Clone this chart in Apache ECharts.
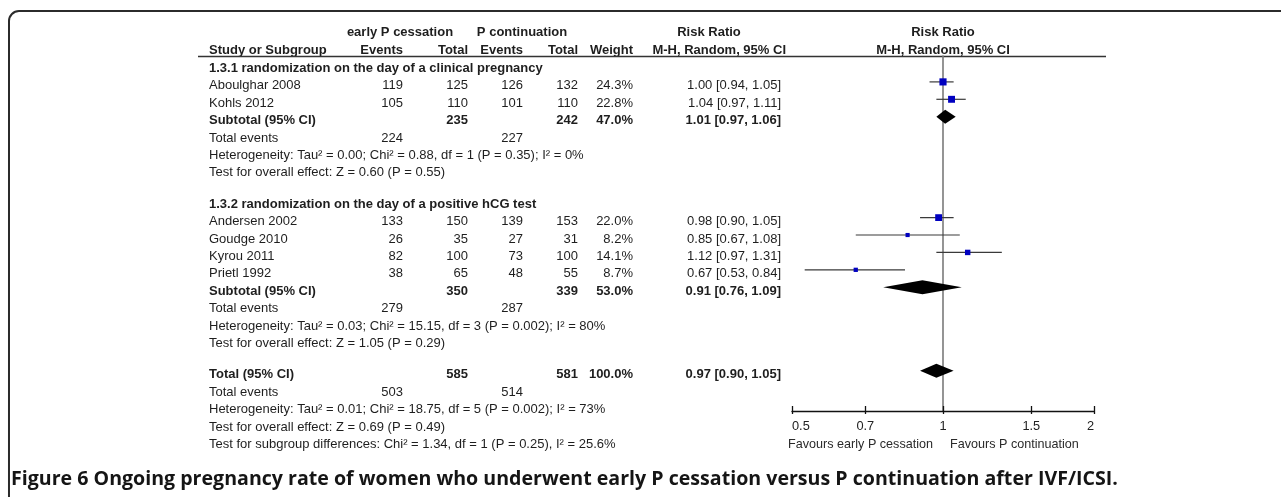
<!DOCTYPE html>
<html><head><meta charset="utf-8">
<script src="https://cdn.jsdelivr.net/npm/echarts@6/dist/echarts.min.js"></script>
<style>html,body{margin:0;padding:0;background:#fff}#c{width:1281px;height:497px}</style>
</head><body><div id="c"></div>
<script>
// ---------------- data ----------------
const groupTitles = ['1.3.1 randomization on the day of a clinical pregnancy', '1.3.2 randomization on the day of a positive hCG test'];
const studyNames = ['Aboulghar 2008', 'Kohls 2012', 'Andersen 2002', 'Goudge 2010', 'Kyrou 2011', 'Prietl 1992'];
const studyGroup = [0, 0, 1, 1, 1, 1];
const eventsEarly = [119, 105, 133, 26, 82, 38];
const totalEarly = [125, 110, 150, 35, 100, 65];
const eventsCont = [126, 101, 139, 27, 73, 48];
const totalCont = [132, 110, 153, 31, 100, 55];
const weights = [24.3, 22.8, 22.0, 8.2, 14.1, 8.7];
const rr = [1.00, 1.04, 0.98, 0.85, 1.12, 0.67];
const ciLow = [0.94, 0.97, 0.90, 0.67, 0.97, 0.53];
const ciHigh = [1.05, 1.11, 1.05, 1.08, 1.31, 0.84];

const subTotalEarly = [235, 350];
const subTotalCont = [242, 339];
const subWeight = [47.0, 53.0];
const subRR = [1.01, 0.91];
const subLow = [0.97, 0.76];
const subHigh = [1.06, 1.09];
const subEventsEarly = [224, 279];
const subEventsCont = [227, 287];
const heterogeneity = ['Heterogeneity: Tau\u00b2 = 0.00; Chi\u00b2 = 0.88, df = 1 (P = 0.35); I\u00b2 = 0%',
                       'Heterogeneity: Tau\u00b2 = 0.03; Chi\u00b2 = 15.15, df = 3 (P = 0.002); I\u00b2 = 80%'];
const overallEffect = ['Test for overall effect: Z = 0.60 (P = 0.55)', 'Test for overall effect: Z = 1.05 (P = 0.29)'];

const overallTotalEarly = 585;
const overallTotalCont = 581;
const overallWeight = 100.0;
const overallRR = 0.97;
const overallLow = 0.90;
const overallHigh = 1.05;
const overallEventsEarly = 503;
const overallEventsCont = 514;
const overallHet = 'Heterogeneity: Tau\u00b2 = 0.01; Chi\u00b2 = 18.75, df = 5 (P = 0.002); I\u00b2 = 73%';
const overallTest = 'Test for overall effect: Z = 0.69 (P = 0.49)';
const subgroupTest = 'Test for subgroup differences: Chi\u00b2 = 1.34, df = 1 (P = 0.25), I\u00b2 = 25.6%';

const xTicks = [0.5, 0.7, 1, 1.5, 2];
const favoursLeft = 'Favours early P cessation';
const favoursRight = 'Favours P continuation';
const caption = 'Figure 6 Ongoing pregnancy rate of women who underwent early P cessation versus P continuation after IVF/ICSI.';

// ---------------- layout ----------------
const FONT = 'Liberation Sans, Arial, sans-serif';
const FS = 13;
const TXT = '#1e1e1e';
const COL = {study: 209, ev1: 403, tot1: 468, ev2: 523, tot2: 578, weight: 633, rr: 781};
const TEXT_DY = 4;
const GAP = 1.8;
const GRID = {left: 792, right: 1094, top: 56, bottom: 411};
const ROW_PX = 17.4;
const firstMarkPx = 64.5;

const fmtRR = (a, b, c) => a.toFixed(2) + ' [' + b.toFixed(2) + ', ' + c.toFixed(2) + ']';
const fmtW = w => w.toFixed(1) + '%';

// build rows
const rows = [];
let slot = 0;
groupTitles.forEach((title, g) => {
  rows.push({slot, cells: [{x: COL.study, t: title, b: true, a: 'left'}]});
  slot += 1;
  studyNames.forEach((name, i) => {
    if (studyGroup[i] !== g) return;
    rows.push({slot, cells: [
      {x: COL.study, t: name, a: 'left'},
      {x: COL.ev1, t: String(eventsEarly[i])},
      {x: COL.tot1, t: String(totalEarly[i])},
      {x: COL.ev2, t: String(eventsCont[i])},
      {x: COL.tot2, t: String(totalCont[i])},
      {x: COL.weight, t: fmtW(weights[i])},
      {x: COL.rr, t: fmtRR(rr[i], ciLow[i], ciHigh[i])}
    ]});
    slot += 1;
  });
  rows.push({slot, cells: [
    {x: COL.study, t: 'Subtotal (95% CI)', a: 'left', b: true},
    {x: COL.tot1, t: String(subTotalEarly[g]), b: true},
    {x: COL.tot2, t: String(subTotalCont[g]), b: true},
    {x: COL.weight, t: fmtW(subWeight[g]), b: true},
    {x: COL.rr, t: fmtRR(subRR[g], subLow[g], subHigh[g]), b: true}
  ]});
  slot += 1;
  rows.push({slot, cells: [
    {x: COL.study, t: 'Total events', a: 'left'},
    {x: COL.ev1, t: String(subEventsEarly[g])},
    {x: COL.ev2, t: String(subEventsCont[g])}
  ]});
  slot += 1;
  rows.push({slot, cells: [{x: COL.study, t: heterogeneity[g], a: 'left'}]});
  slot += 1;
  rows.push({slot, cells: [{x: COL.study, t: overallEffect[g], a: 'left'}]});
  slot += GAP;
});
const totalSlot = slot;
rows.push({slot, cells: [
  {x: COL.study, t: 'Total (95% CI)', a: 'left', b: true},
  {x: COL.tot1, t: String(overallTotalEarly), b: true},
  {x: COL.tot2, t: String(overallTotalCont), b: true},
  {x: COL.weight, t: fmtW(overallWeight), b: true},
  {x: COL.rr, t: fmtRR(overallRR, overallLow, overallHigh), b: true}
]});
slot += 1;
rows.push({slot, cells: [
  {x: COL.study, t: 'Total events', a: 'left'},
  {x: COL.ev1, t: String(overallEventsEarly)},
  {x: COL.ev2, t: String(overallEventsCont)}
]});
slot += 1;
rows.push({slot, cells: [{x: COL.study, t: overallHet, a: 'left'}]}); slot += 1;
rows.push({slot, cells: [{x: COL.study, t: overallTest, a: 'left'}]}); slot += 1;
rows.push({slot, cells: [{x: COL.study, t: subgroupTest, a: 'left'}]});

// study marks and diamonds (log scale)
const studySlots = rows.filter(r => r.cells.length === 7).map(r => r.slot);
const studyData = studyNames.map((n, i) => [Math.log(ciLow[i]), Math.log(ciHigh[i]), Math.log(rr[i]), studySlots[i], weights[i]]);
const subSlots = rows.filter(r => r.cells[0].t === 'Subtotal (95% CI)').map(r => r.slot);
const diamondData = subRR.map((v, g) => [Math.log(subLow[g]), Math.log(subHigh[g]), Math.log(v), subSlots[g]]);
diamondData.push([Math.log(overallLow), Math.log(overallHigh), Math.log(overallRR), totalSlot]);

const yMin = -(firstMarkPx - GRID.top) / ROW_PX;
const yMax = yMin + (GRID.bottom - GRID.top) / ROW_PX;
const logTicks = xTicks.map(v => Math.log(v));
const xMin = Math.log(xTicks[0]);
const xMax = Math.log(xTicks[xTicks.length - 1]);

const chart = echarts.init(document.getElementById('c'), null, {renderer: 'canvas'});

function txt(x, y, t, opt) {
  opt = opt || {};
  return {type: 'text', x: x, y: y, silent: true, style: {
    text: t, fill: opt.fill || TXT, fontSize: opt.fs || FS, fontFamily: opt.ff || FONT,
    fontWeight: opt.b ? 'bold' : 'normal', align: opt.a || 'left', verticalAlign: 'middle'
  }};
}

const graphics = [
  {type: 'rect', shape: {x: 9, y: 11, width: 1300, height: 520, r: 10}, style: {fill: 'none', stroke: '#2b2b2b', lineWidth: 2}, silent: true},
  txt(400, 32, 'early P cessation', {b: true, a: 'center'}),
  txt(522, 32, 'P continuation', {b: true, a: 'center'}),
  txt(709, 32, 'Risk Ratio', {b: true, a: 'center'}),
  txt(943, 32, 'Risk Ratio', {b: true, a: 'center'}),
  txt(COL.study, 50, 'Study or Subgroup', {b: true}),
  txt(COL.ev1, 50, 'Events', {b: true, a: 'right'}),
  txt(COL.tot1, 50, 'Total', {b: true, a: 'right'}),
  txt(COL.ev2, 50, 'Events', {b: true, a: 'right'}),
  txt(COL.tot2, 50, 'Total', {b: true, a: 'right'}),
  txt(COL.weight, 50, 'Weight', {b: true, a: 'right'}),
  txt(786, 50, 'M-H, Random, 95% CI', {b: true, a: 'right'}),
  txt(943, 50, 'M-H, Random, 95% CI', {b: true, a: 'center'}),
  {type: 'line', shape: {x1: 198, y1: 56.5, x2: 1106, y2: 56.5}, style: {stroke: '#333', lineWidth: 1.6}, silent: true},
  txt(933, 445, favoursLeft, {fs: 12.6, a: 'right', fill: '#2a2a2a'}),
  txt(950, 445, favoursRight, {fs: 12.6, a: 'left', fill: '#2a2a2a'}),
  txt(11, 479, caption, {fs: 19.6, b: true, ff: 'Open Sans, sans-serif', fill: '#151515'})
];

const option = {
  animation: false,
  backgroundColor: '#fff',
  graphic: {elements: graphics},
  grid: {left: GRID.left, top: GRID.top, width: GRID.right - GRID.left, height: GRID.bottom - GRID.top, containLabel: false, outerBoundsMode: 'none'},
  xAxis: [{
    type: 'value', min: xMin, max: xMax, gridIndex: 0, position: 'bottom',
    axisLine: {show: true, onZero: false, lineStyle: {color: '#111', width: 1.3}},
    axisTick: {show: true, inside: true, length: 5, customValues: logTicks, lineStyle: {color: '#111', width: 1.3}},
    axisLabel: {show: true, customValues: logTicks, margin: 9, color: '#222', fontSize: 12.8, fontFamily: FONT,
      alignMinLabel: 'left', alignMaxLabel: 'right',
      formatter: v => String(+Math.exp(v).toFixed(2))},
    splitLine: {show: false}
  }, {
    type: 'value', min: xMin, max: xMax, gridIndex: 0, position: 'bottom', offset: 0,
    axisLine: {show: false, onZero: false},
    axisTick: {show: true, inside: false, length: 3, customValues: logTicks, lineStyle: {color: '#111', width: 1.3}},
    axisLabel: {show: false},
    splitLine: {show: false}
  }],
  yAxis: {
    type: 'value', inverse: true, min: yMin, max: yMax,
    axisLine: {show: true, onZero: true, lineStyle: {color: '#7a7a7a', width: 1.6}},
    axisTick: {show: false}, axisLabel: {show: false}, splitLine: {show: false}
  },
  series: [{
    type: 'custom', name: 'table', clip: false, silent: true,
    data: rows.map(r => [0, r.slot]),
    renderItem: (params, api) => {
      const row = rows[params.dataIndex];
      const y = api.coord([0, api.value(1)])[1] + TEXT_DY;
      return {type: 'group', children: row.cells.map(c => txt(c.x, y, c.t, {b: c.b, a: c.a || 'right'}))};
    }
  }, {
    type: 'custom', name: 'studies', clip: false, silent: true,
    data: studyData,
    renderItem: (params, api) => {
      const lo = api.coord([api.value(0), api.value(3)]);
      const hi = api.coord([api.value(1), api.value(3)]);
      const c = api.coord([api.value(2), api.value(3)]);
      const s = 1.45 * Math.sqrt(api.value(4));
      return {type: 'group', children: [
        {type: 'line', shape: {x1: lo[0], y1: lo[1], x2: hi[0], y2: hi[1]}, style: {stroke: '#3a3a3a', lineWidth: 1.2}},
        {type: 'rect', shape: {x: c[0] - s / 2, y: c[1] - s / 2, width: s, height: s}, style: {fill: '#0000c0'}}
      ]};
    }
  }, {
    type: 'custom', name: 'pooled', clip: false, silent: true,
    data: diamondData,
    renderItem: (params, api) => {
      const lo = api.coord([api.value(0), api.value(3)]);
      const hi = api.coord([api.value(1), api.value(3)]);
      const c = api.coord([api.value(2), api.value(3)]);
      const h = 7;
      return {type: 'polygon', shape: {points: [[lo[0], lo[1]], [c[0], c[1] - h], [hi[0], hi[1]], [c[0], c[1] + h]]}, style: {fill: '#000'}};
    }
  }]
};
chart.setOption(option);
</script>
</body></html>
